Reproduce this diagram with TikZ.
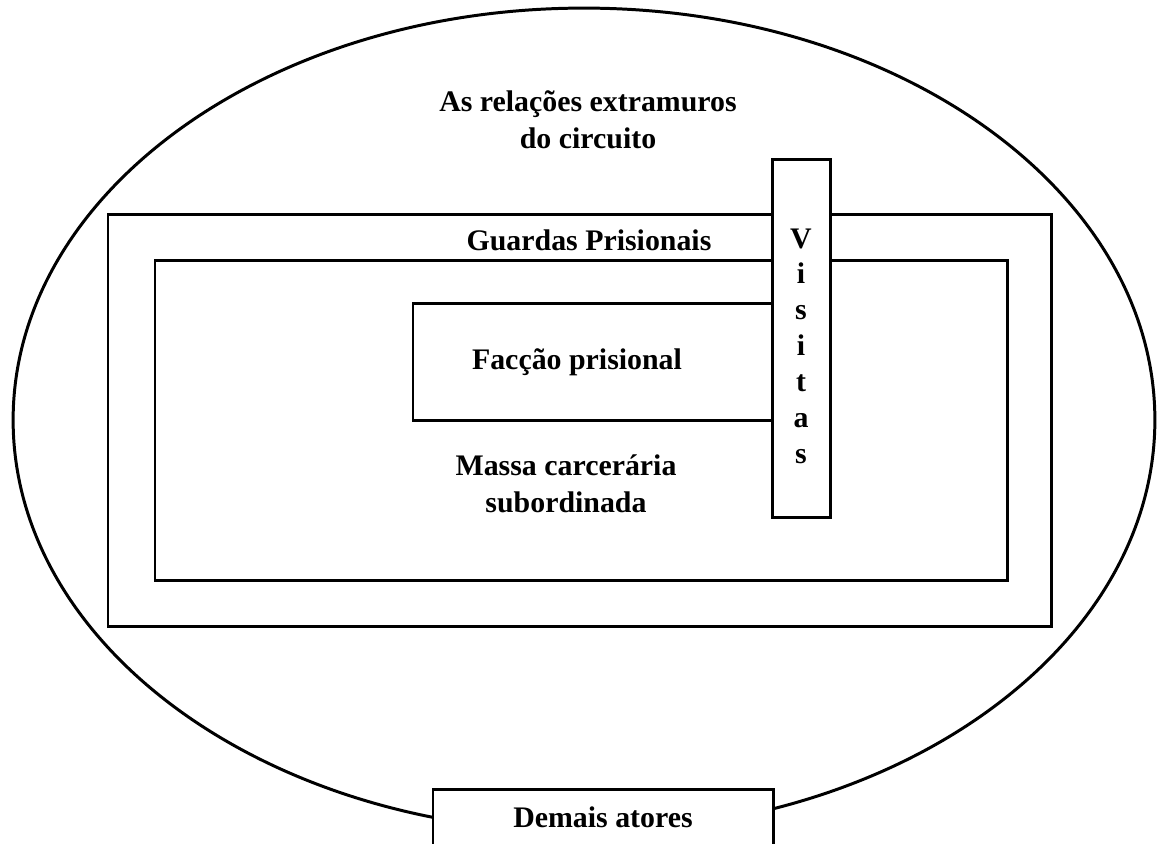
\documentclass[tikz,border=0pt]{standalone}
\usepackage{fontspec}
\setmainfont{Liberation Serif}
\usepackage{tikz}

\tikzset{
  lbl/.style={font=\fontsize{17}{21}\selectfont\bfseries, align=center, inner sep=0pt},
  frame/.style={line width=1.7pt}
}

\begin{document}
\begin{tikzpicture}[x=0.02cm,y=-0.02cm]
\useasboundingbox (0,0) rectangle (1157,843);
\draw [frame] (584,420) ellipse [x radius=11.42cm, y radius=8.24cm];
\draw [frame] (108,214) rectangle (1051,626);
\draw [frame] (155,260) rectangle (1007,580);
\draw [frame] (413,303) rectangle (800,420);
\draw [frame, fill=white] (772,159) rectangle (830,517);
\draw [frame, fill=white] (433,789) rectangle (773,860);
\node [lbl] (extra) at (588,120) {As relações extramuros\\do circuito};
\node [lbl] (guardas) at (589,240) {Guardas Prisionais};
\node [lbl] (faccao) at (577,362) {Facção prisional};
\node [lbl] (massa) at (566,484) {Massa carcerária\\subordinada};
\node [lbl, font=\fontsize{17}{20.4}\selectfont\bfseries] (visitas) at (801,346) {V\\i\\s\\i\\t\\a\\s};
\node [lbl] (demais) at (603,817) {Demais atores};
\end{tikzpicture}
\end{document}
